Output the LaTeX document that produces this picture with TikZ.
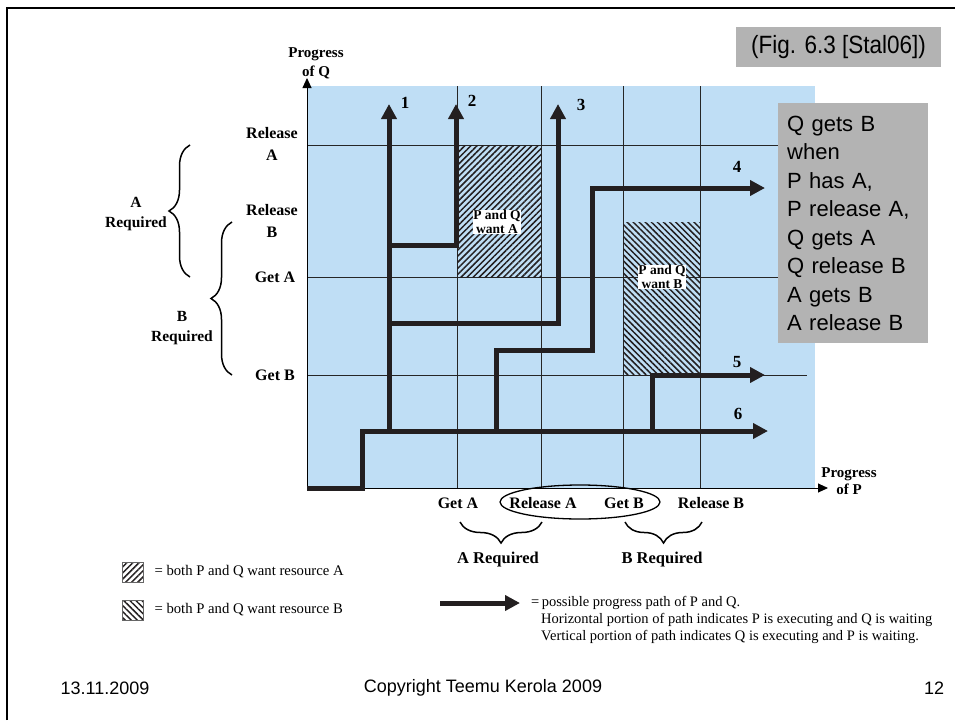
\documentclass[tikz,border=0pt]{standalone}
\usepackage{fontspec}
\setmainfont{Liberation Serif}
\newfontfamily\slidefont{Liberation Sans}
\newfontfamily\narrowfont[FakeStretch=0.9]{Liberation Sans}
\usetikzlibrary{arrows.meta,patterns.meta,decorations.pathreplacing,positioning}

\definecolor{chartblue}{RGB}{191,222,245}
\definecolor{pathblack}{RGB}{35,31,32}
\definecolor{notegray}{RGB}{179,179,179}

\begin{document}
\begin{tikzpicture}[x=1pt,y=-1pt,
    gridline/.style={line width=0.9pt, black!85},
    progress/.style={line width=5pt, pathblack, -{Triangle[length=15pt,width=15pt]}},
    axis/.style={line width=0.9pt, black, -{Triangle[length=10pt,width=9pt]}},
    hatchA/.style={pattern={Lines[angle=45,distance=4.3pt,line width=1.5pt]}, pattern color=pathblack},
    hatchB/.style={pattern={Lines[angle=-45,distance=4.3pt,line width=1.5pt]}, pattern color=pathblack},
    hatchlabel/.style={fill=white, inner sep=0.5pt, align=center, font=\bfseries\fontsize{13.5}{14}\selectfont},
    tick/.style={align=center, font=\bfseries\fontsize{16}{22}\selectfont},
    pathnum/.style={font=\bfseries\fontsize{17}{17}\selectfont},
    bracelbl/.style={align=center, font=\bfseries\fontsize{15.5}{20}\selectfont},
    curly/.style={line width=1.5pt, decorate, decoration={brace, amplitude=21pt}},
    legend/.style={font=\fontsize{14.7}{17}\selectfont},
    notebox/.style={fill=notegray, inner sep=0pt},
    footer/.style={font=\slidefont\fontsize{18}{18}\selectfont}]
    \useasboundingbox (0,0) rectangle (955,720);

    % Slide frame
    \draw[line width=2pt] (7,720) -- (7,8) -- (955,8);

    % Shaded area of the chart
    \fill[chartblue] (307,86) rectangle (815,488);

    % Grid lines
    \foreach \gx in {457,541,623,700}
        \draw[gridline] (\gx,86) -- (\gx,488);
    \foreach \gy in {145,277,375}
        \draw[gridline] (307,\gy) -- (807,\gy);

    % Regions where both want the same resource
    \fill[hatchA] (457,145) rectangle (541,277);
    \fill[hatchB] (623,222) rectangle (700,375);
    \node[hatchlabel] (wantA) at (497,222) {P and Q\\want A};
    \node[hatchlabel] (wantB) at (662,277) {P and Q\\want B};

    % Axes
    \draw[axis] (307,488) -- (828,488);
    \draw[axis] (307,488) -- (307,78);
    \node[bracelbl, font=\bfseries\fontsize{15}{19}\selectfont] (progQ) at (316,63) {Progress\\of Q};
    \node[bracelbl, font=\bfseries\fontsize{15}{17}\selectfont] (progP) at (849,481) {Progress\\of P};

    % Progress paths
    \draw[progress] (389,431) -- (389,104);
    \draw[progress] (389,245) -- (456,245) -- (456,104);
    \draw[progress] (389,323) -- (558,323) -- (558,104);
    \draw[progress] (496,431) -- (496,350) -- (592,350) -- (592,188) -- (765,188);
    \draw[progress] (652,431) -- (652,375) -- (765,375);
    \draw[progress] (307,488) -- (362,488) -- (362,431) -- (768,431);

    % Path numbers
    \node[pathnum] (num1) at (405,103) {1};
    \node[pathnum] (num2) at (472,101) {2};
    \node[pathnum] (num3) at (581,105) {3};
    \node[pathnum] (num4) at (737,167) {4};
    \node[pathnum] (num5) at (737,362) {5};
    \node[pathnum] (num6) at (738,414) {6};

    % Q-axis labels
    \node[tick] (relAq) at (272,144) {Release\\A};
    \node[tick] (relBq) at (272,221) {Release\\B};
    \node[tick] (getAq) at (275,277) {Get A};
    \node[tick] (getBq) at (275,375) {Get B};

    % Braces on the left
    \draw[curly] (190,277) -- (190,145);
    \draw[curly] (232,375) -- (232,222);
    \node[bracelbl] (reqAq) at (136,214) {A\\Required};
    \node[bracelbl] (reqBq) at (182,328) {B\\Required};

    % P-axis labels
    \node[tick] (getAp) at (458,503) {Get A};
    \node[tick] (relAp) at (543,503) {Release A};
    \node[tick] (getBp) at (624,503) {Get B};
    \node[tick] (relBp) at (711,503) {Release B};
    \draw[line width=1.3pt] (580,502) ellipse [x radius=80pt, y radius=17pt];

    % Braces below
    \draw[curly] (542,522) -- (460,522);
    \draw[curly] (702,522) -- (625,522);
    \node[bracelbl, font=\bfseries\fontsize{16.5}{16.5}\selectfont] (reqAp) at (498,560) {A Required};
    \node[bracelbl, font=\bfseries\fontsize{16.5}{16.5}\selectfont] (reqBp) at (662,560) {B Required};

    % Legend
    \filldraw[hatchA, draw=black!60, line width=0.5pt] (122,562) rectangle (143,582);
    \filldraw[hatchB, draw=black!60, line width=0.5pt] (122,600) rectangle (143,620);
    \node[legend, anchor=west] (keyA) at (151,572) {= both P and Q want resource A};
    \node[legend, anchor=west] (keyB) at (151,610) {= both P and Q want resource B};
    \draw[progress] (440,603) -- (520,603);
    \node[legend, anchor=north west, align=left, inner sep=0pt, font=\fontsize{14.5}{17}\selectfont] (keyPath) at (531,596)
        {=\,possible progress path of P and Q.\\
         \hspace*{10pt}Horizontal portion of path indicates P is executing and Q is waiting\\
         \hspace*{10pt}Vertical portion of path indicates Q is executing and P is waiting.};

    % Notes in gray boxes
    \node[notebox, minimum width=205pt, minimum height=40pt, font=\narrowfont\fontsize{25}{25}\selectfont] (figref) at (838.5,47) {(Fig. 6.3 [Stal06])};
    \node[notebox, anchor=north west, minimum width=150pt, minimum height=240pt, text width=132pt, align=left,
          font=\slidefont\fontsize{22}{28.5}\selectfont] (note) at (778,103)
        {Q gets B\\when\\P has A,\\P release A,\\Q gets A\\Q release B\\A gets B\\A release B};

    % Footer
    \node[footer] (date) at (105,688) {13.11.2009};
    \node[footer] (copy) at (483,688) {Copyright Teemu Kerola 2009};
    \node[footer] (page) at (934,688) {12};
\end{tikzpicture}
\end{document}
